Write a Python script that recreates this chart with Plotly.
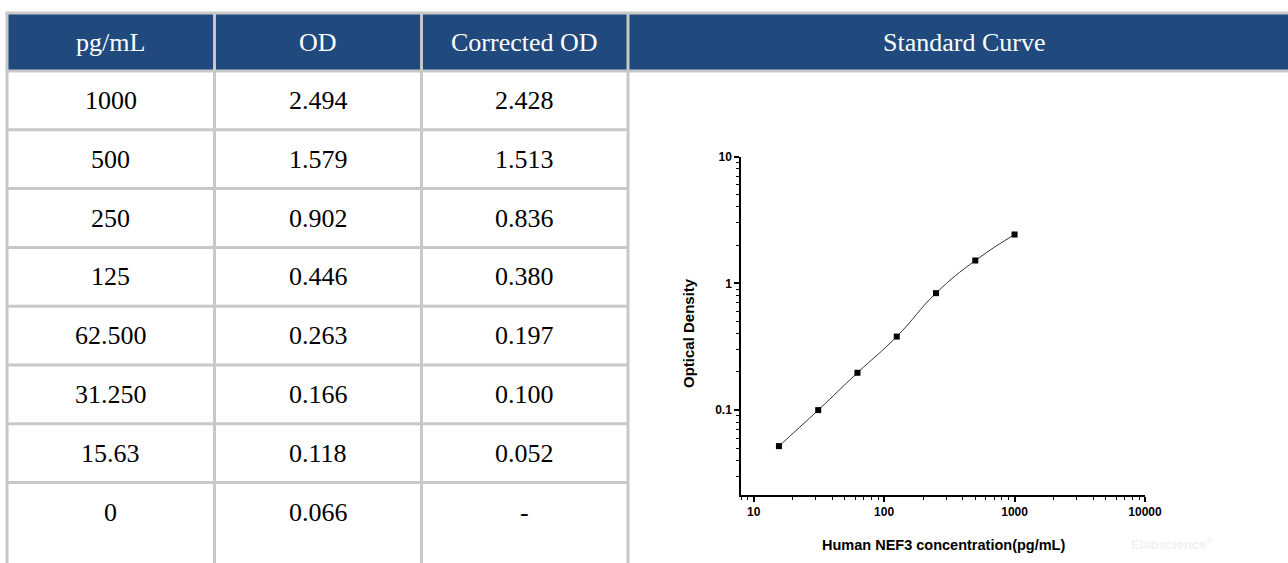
"""ELISA standard curve: table of standards next to a log-log plot."""

import math

import plotly.graph_objects as go

# table data
HEADERS = ["pg/mL", "OD", "Corrected OD"]
CURVE_HEADER = "Standard Curve"
CONC_LABELS = ["1000", "500", "250", "125", "62.500", "31.250", "15.63", "0"]
OD_LABELS = ["2.494", "1.579", "0.902", "0.446", "0.263", "0.166", "0.118", "0.066"]
CORRECTED_LABELS = ["2.428", "1.513", "0.836", "0.380", "0.197", "0.100", "0.052", "-"]

# curve data
CONC = [15.63, 31.25, 62.5, 125, 250, 500, 1000]
CORRECTED_OD = [0.052, 0.100, 0.197, 0.380, 0.836, 1.513, 2.428]

X_TICKS = [10, 100, 1000, 10000]
X_TICK_TEXT = ["10", "100", "1000", "10000"]
Y_TICKS = [0.1, 1, 10]
Y_TICK_TEXT = ["0.1", "1", "10"]

W, H = 1288, 563
HEADER_BLUE = "#204a7d"
GRID_GRAY = "#c8c8c8"
SERIF = "Liberation Serif, Times New Roman, serif"
SANS = "Liberation Sans, Arial, sans-serif"

# table geometry in pixels
COL_EDGES = [7, 214.5, 421.5, 628, 1300]
TOP, HEADER_BOTTOM, ROW_H = 13, 71, 58.8


def _minor(decades):
    return [m * 10 ** d for d in decades for m in range(2, 10)]


fig = go.Figure()

fig.add_trace(
    go.Scatter(
        x=CONC,
        y=CORRECTED_OD,
        mode="lines+markers",
        line=dict(color="#333333", width=1, shape="spline", smoothing=1.3),
        marker=dict(symbol="square", size=6, color="#000000"),
        showlegend=False,
        hoverinfo="x+y",
    )
)

shapes = []
annotations = []

# header band
shapes.append(dict(type="rect", xref="x2", yref="y2", x0=COL_EDGES[0], x1=COL_EDGES[-1],
                   y0=TOP, y1=HEADER_BOTTOM, fillcolor=HEADER_BLUE, line_width=0, layer="below"))

row_edges = [HEADER_BOTTOM + ROW_H * i for i in range(len(CONC_LABELS))]
grid = dict(color=GRID_GRAY, width=3)
for y in [TOP, HEADER_BOTTOM]:
    shapes.append(dict(type="line", xref="x2", yref="y2", x0=COL_EDGES[0] - 1.5, x1=COL_EDGES[-1],
                       y0=y, y1=y, line=grid))
for y in row_edges[1:]:
    shapes.append(dict(type="line", xref="x2", yref="y2", x0=COL_EDGES[0], x1=COL_EDGES[3],
                       y0=y, y1=y, line=grid))
for x in COL_EDGES[:4]:
    shapes.append(dict(type="line", xref="x2", yref="y2", x0=x, x1=x, y0=TOP, y1=H + 20, line=grid))

# header texts
for i, text in enumerate(HEADERS):
    annotations.append(dict(xref="x2", yref="y2", x=(COL_EDGES[i] + COL_EDGES[i + 1]) / 2,
                            y=(TOP + HEADER_BOTTOM) / 2, text=text, showarrow=False,
                            font=dict(family=SERIF, size=26, color="white")))
annotations.append(dict(xref="x2", yref="y2", x=(COL_EDGES[3] + COL_EDGES[4]) / 2,
                        y=(TOP + HEADER_BOTTOM) / 2, text=CURVE_HEADER, showarrow=False,
                        font=dict(family=SERIF, size=26, color="white")))

# body texts
for col, values in enumerate([CONC_LABELS, OD_LABELS, CORRECTED_LABELS]):
    cx = (COL_EDGES[col] + COL_EDGES[col + 1]) / 2
    for row, text in enumerate(values):
        annotations.append(dict(xref="x2", yref="y2", x=cx, y=HEADER_BOTTOM + ROW_H * (row + 0.5),
                                text=text, showarrow=False,
                                font=dict(family=SERIF, size=26, color="black")))

# plot titles and watermark
annotations.append(dict(xref="x2", yref="y2", x=688, y=333, text="<b>Optical Density</b>",
                        textangle=-90, showarrow=False, font=dict(family=SANS, size=15, color="black")))
annotations.append(dict(xref="x2", yref="y2", x=943, y=545,
                        text="<b>Human NEF3 concentration(pg/mL)</b>", showarrow=False,
                        font=dict(family=SANS, size=14.5, color="black")))
annotations.append(dict(xref="x2", yref="y2", x=1172, y=544, text="<b>Elabscience</b><sup>®</sup>",
                        showarrow=False, font=dict(family=SANS, size=13, color="#f2f2f2")))

# plot area in pixels, converted to figure fractions
plot_left, plot_right, plot_top, plot_bottom = 741, 1145, 156.5, 495

axis_common = dict(
    type="log",
    automargin=False,
    showgrid=False,
    zeroline=False,
    showline=True,
    linecolor="#000000",
    linewidth=1.5,
    ticks="outside",
    ticklen=5,
    tickwidth=1.5,
    tickcolor="#000000",
    tickfont=dict(family=SANS, size=12, color="black"),
)

fig.update_layout(
    width=W,
    height=H,
    margin=dict(l=0, r=0, t=0, b=0),
    paper_bgcolor="white",
    plot_bgcolor="rgba(0,0,0,0)",
    xaxis=dict(
        **axis_common,
        domain=[plot_left / W, plot_right / W],
        range=[math.log10(8), 4],
        tickvals=X_TICKS,
        ticktext=[f"<b>{t}</b>" for t in X_TICK_TEXT],
        minor=dict(tickvals=[v for v in _minor([0, 1, 2, 3]) if v >= 8], ticks="outside",
                   ticklen=3, tickwidth=1.2, tickcolor="#000000"),
    ),
    yaxis=dict(
        **axis_common,
        domain=[1 - plot_bottom / H, 1 - plot_top / H],
        range=[math.log10(0.0214), 1],
        tickvals=Y_TICKS,
        ticktext=[f"<b>{t}</b>" for t in Y_TICK_TEXT],
        minor=dict(tickvals=[v for v in _minor([-2, -1, 0]) if v >= 0.022], ticks="outside",
                   ticklen=3, tickwidth=1.2, tickcolor="#000000"),
    ),
    xaxis2=dict(domain=[0, 1], range=[0, W], visible=False, anchor="y2", automargin=False),
    yaxis2=dict(domain=[0, 1], range=[H, 0], visible=False, anchor="x2", automargin=False),
    shapes=shapes,
    annotations=annotations,
)

# drop the page's default body margin so the figure sits in the window corner
fig.write_html(
    "out.html",
    config={"displayModeBar": False},
    post_script="document.body.style.margin = '0'; document.body.style.overflow = 'hidden';",
)
